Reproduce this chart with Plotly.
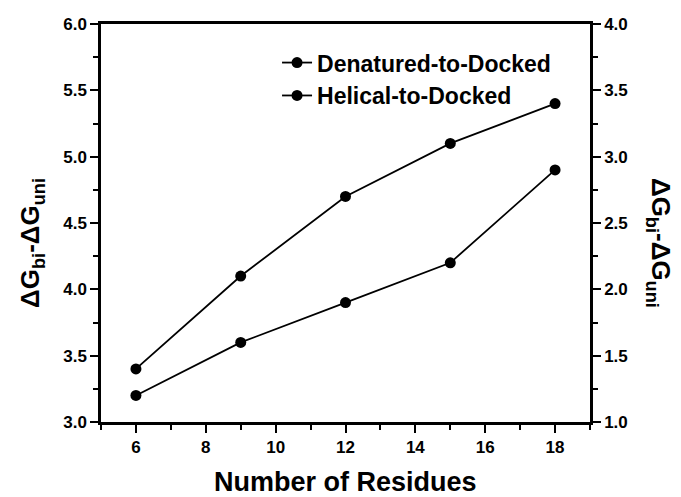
import plotly.graph_objects as go

residues = [6, 9, 12, 15, 18]
denatured_to_docked = [3.4, 4.1, 4.7, 5.1, 5.4]   # left axis
helical_to_docked = [1.2, 1.6, 1.9, 2.2, 2.9]     # right axis
series_names = ["Denatured-to-Docked", "Helical-to-Docked"]

FONT = "Liberation Sans, Arial, sans-serif"

fig = go.Figure()
fig.add_trace(go.Scatter(
    x=residues, y=denatured_to_docked, name="<b>" + series_names[0] + "</b>",
    mode="lines+markers", line=dict(color="black", width=1.8),
    marker=dict(color="black", size=11), yaxis="y"))
fig.add_trace(go.Scatter(
    x=residues, y=helical_to_docked, name="<b>" + series_names[1] + "</b>",
    mode="lines+markers", line=dict(color="black", width=1.8),
    marker=dict(color="black", size=11), yaxis="y2"))

axis_common = dict(showgrid=False, zeroline=False, showline=True, linecolor="black",
                   linewidth=2.5, ticks="outside", ticklen=8, tickwidth=2, tickcolor="black",
                   tickfont=dict(family=FONT, size=17, color="black", weight="bold"))

fig.update_layout(
    width=681, height=497,
    margin=dict(l=101, r=91, t=24, b=75),
    paper_bgcolor="white", plot_bgcolor="white",
    font=dict(family=FONT, color="black"),
    showlegend=True,
    legend=dict(x=0.36, y=0.957, xanchor="left", yanchor="top",
                bgcolor="rgba(0,0,0,0)", font=dict(family=FONT, size=23, color="black"),
                itemwidth=30, tracegroupgap=0),
    xaxis=dict(range=[5, 19], tickvals=[6, 8, 10, 12, 14, 16, 18], mirror=True,
               minor=dict(tickvals=[5, 7, 9, 11, 13, 15, 17, 19], ticks="outside",
                          ticklen=5, tickwidth=1.5, tickcolor="black"),
               **axis_common),
    yaxis=dict(range=[3.0, 6.0], tickvals=[3.0, 3.5, 4.0, 4.5, 5.0, 5.5, 6.0],
               tickformat=".1f",
               minor=dict(dtick=0.25, ticks="outside", ticklen=5, tickwidth=1.5,
                          tickcolor="black"),
               **axis_common),
    yaxis2=dict(range=[1.0, 4.0], tickvals=[1.0, 1.5, 2.0, 2.5, 3.0, 3.5, 4.0],
                tickformat=".1f", overlaying="y", side="right",
                minor=dict(dtick=0.25, ticks="outside", ticklen=5, tickwidth=1.5,
                           tickcolor="black"),
                **axis_common),
    annotations=[
        dict(text="<b>Number of Residues</b>", x=0.5, y=-0.151, xref="paper", yref="paper",
             xanchor="center", yanchor="middle", showarrow=False,
             font=dict(family=FONT, size=27, color="black")),
        dict(text="<b>ΔG<sub>bi</sub>-ΔG<sub>uni</sub></b>", x=-0.141, y=0.45,
             xref="paper", yref="paper", xanchor="center", yanchor="middle",
             textangle=-90, showarrow=False,
             font=dict(family=FONT, size=26, color="black")),
        dict(text="<b>ΔG<sub>bi</sub>-ΔG<sub>uni</sub></b>", x=1.141, y=0.45,
             xref="paper", yref="paper", xanchor="center", yanchor="middle",
             textangle=90, showarrow=False,
             font=dict(family=FONT, size=26, color="black")),
    ],
)

fig.write_html("out.html")
